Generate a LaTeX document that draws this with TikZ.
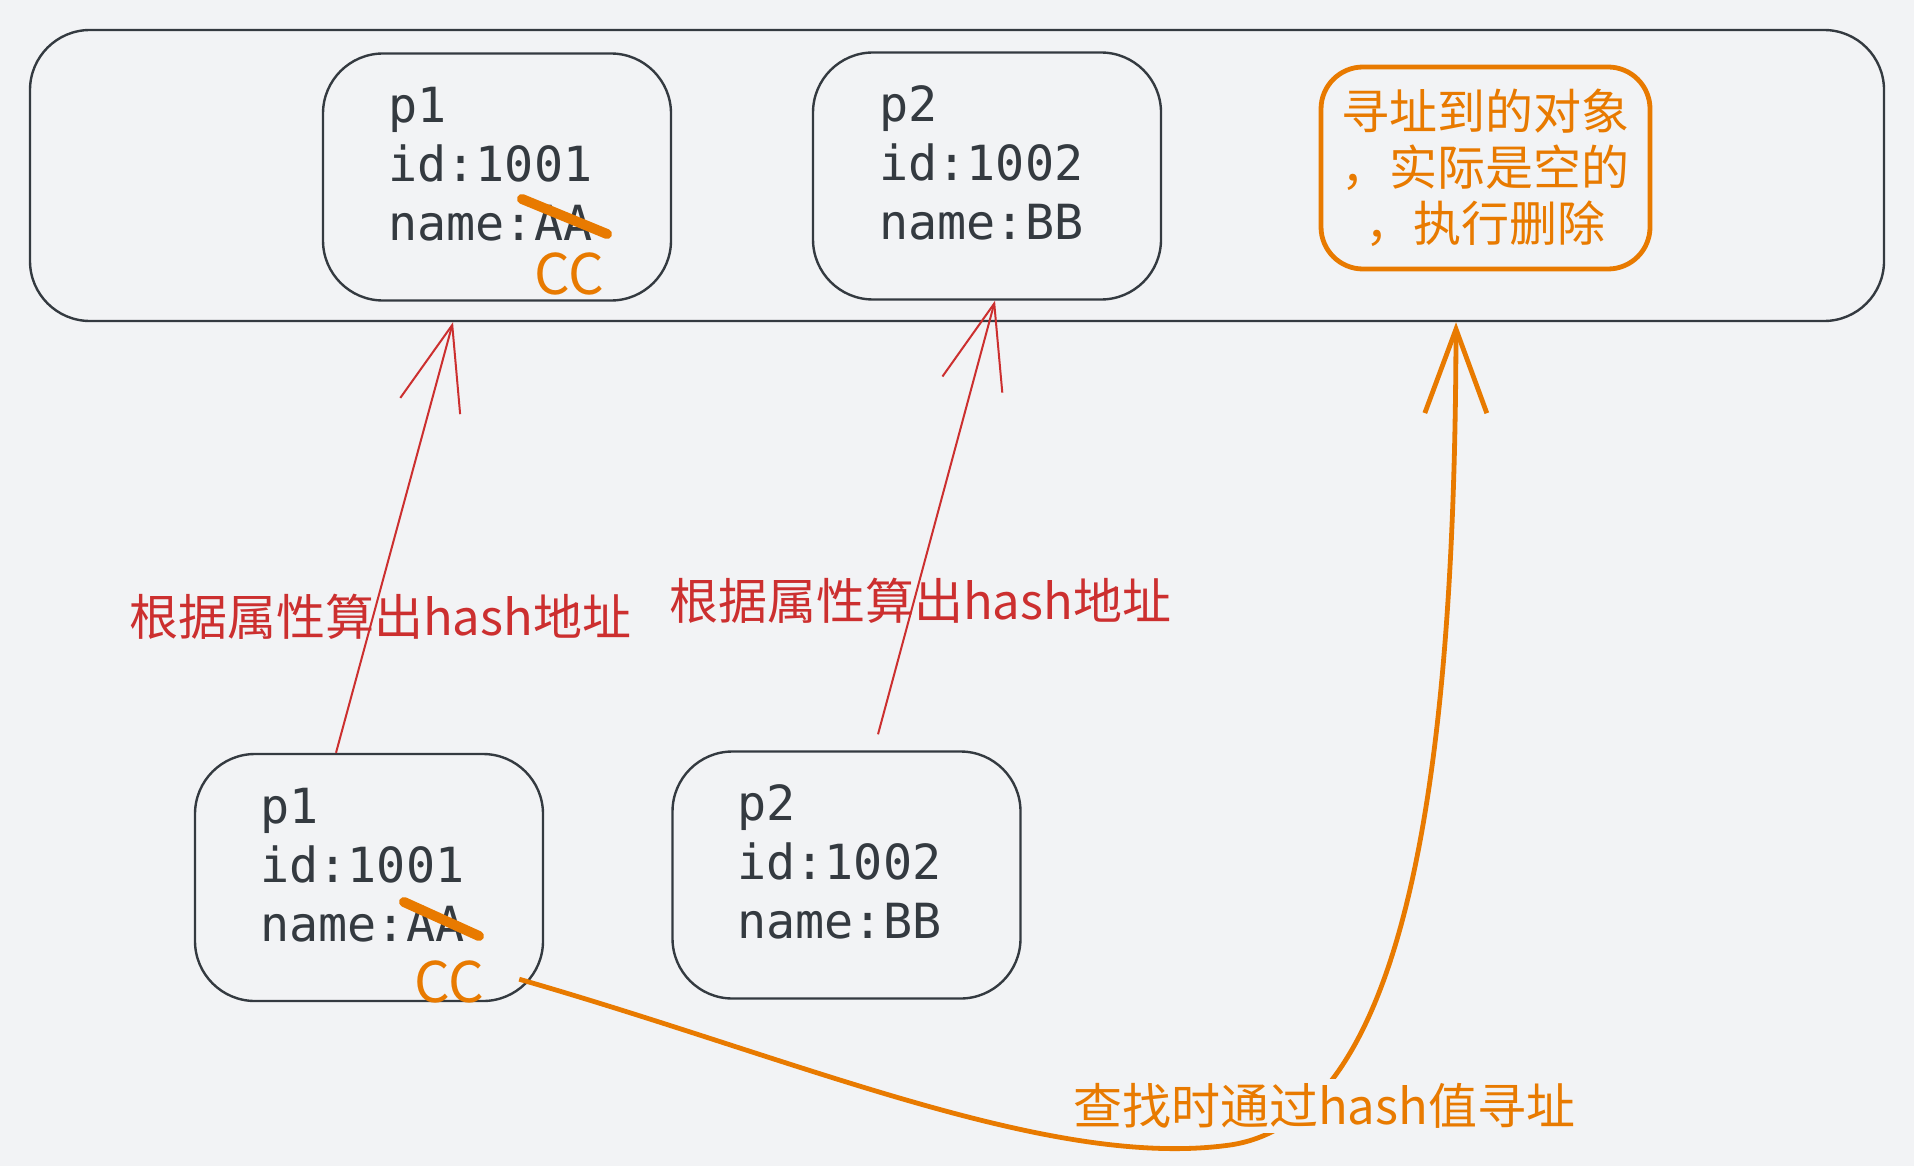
\documentclass[tikz,border=0pt]{standalone}
\usepackage{fontspec}
\usepackage{xcolor}
\usetikzlibrary{arrows.meta}
\newfontfamily\monofont{DejaVu Sans Mono}
\newfontfamily\cjkfont{Noto Sans CJK SC}
\definecolor{bgcol}{HTML}{F2F3F5}
\definecolor{ink}{HTML}{343A40}
\definecolor{hashred}{HTML}{CC2F2F}
\definecolor{hashorange}{HTML}{E87A00}

\begin{document}
\begin{tikzpicture}[x=0.5pt,y=-0.5pt,
  objbox/.style={draw=ink,line width=1.2pt,rounded corners=30pt,minimum width=174pt,minimum height=123.5pt,inner sep=0pt},
  objtext/.style={anchor=west,align=left,inner sep=0pt,text=ink,font=\monofont\fontsize{24.2}{29.5}\selectfont},
  redlabel/.style={text=hashred,inner sep=0pt,font=\cjkfont\fontsize{24.5}{29}\selectfont},
  cctext/.style={text=hashorange,inner sep=0pt,font=\cjkfont\fontsize{28}{32}\selectfont},
  strike/.style={draw=hashorange,line width=5pt,line cap=round},
  hashline/.style={draw=hashred,line width=1pt,-{Straight Barb[length=42pt,width=31pt]}},
  findline/.style={draw=hashorange,line width=2.4pt,-{Straight Barb[length=42pt,width=31pt]}}]
  \fill[bgcol] (0,0) rectangle (1914,1166);
  \useasboundingbox (0,0) rectangle (1914,1166);

  \node[draw=ink,line width=1.2pt,rounded corners=30pt,minimum width=927pt,minimum height=145.5pt] (store) at (957,175.5) {};
  \node[objbox] (top1) at (497,177) {};
  \node[objbox] (top2) at (987,176) {};
  \node[draw=hashorange,line width=2.4pt,rounded corners=21pt,minimum width=164.5pt,minimum height=101pt,inner sep=0pt,
        align=center,text=hashorange,font=\cjkfont\fontsize{24}{28}\selectfont] (found) at (1485.5,168)
        {寻址到的对象\\，实际是空的\\，执行删除};
  \node[objbox] (bot1) at (369,877.5) {};
  \node[objbox] (bot2) at (846.5,875) {};

  \node[objtext] (top1txt) at (388,164) {p1\\id:1001\\name:AA};
  \node[objtext] (top2txt) at (879,163) {p2\\id:1002\\name:BB};
  \node[objtext] (bot1txt) at (260,865) {p1\\id:1001\\name:AA};
  \node[objtext] (bot2txt) at (737,862) {p2\\id:1002\\name:BB};

  \draw[strike] (522,199) -- (607,234);
  \draw[strike] (404,902) -- (479,936);
  \node[cctext] (top1cc) at (569,274) {CC};
  \node[cctext] (bot1cc) at (449,982) {CC};

  \draw[hashline] ([xshift=-16.5pt]bot1.north) -- ([xshift=-252pt]store.south);
  \draw[hashline] ([xshift=15.75pt,yshift=8pt]bot2.north) -- ([xshift=4pt]top2.south);
  \node[redlabel] (hash1) at (380,617) {根据属性算出hash地址};
  \node[redlabel] (hash2) at (920,601) {根据属性算出hash地址};

  \draw[findline] ([xshift=-12.5pt,yshift=11.5pt]bot1.south east)
    .. controls (800,1060) and (1050,1170) .. (1230,1145)
    .. controls (1400,1120) and (1455,800) .. ([xshift=249.5pt]store.south);
  \node[redlabel,text=hashorange,fill=bgcol,inner sep=2pt] (findlabel) at (1324,1106) {查找时通过hash值寻址};
\end{tikzpicture}
\end{document}
